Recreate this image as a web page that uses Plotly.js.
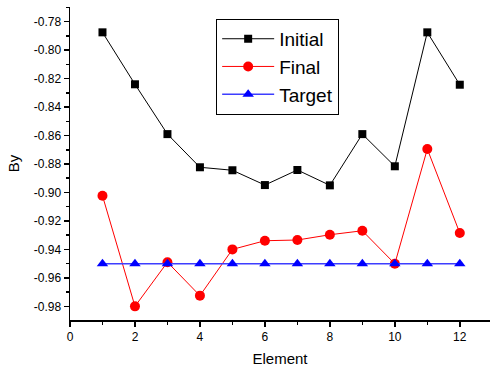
<!DOCTYPE html>
<html><head><meta charset="utf-8">
<script src="https://cdn.plot.ly/plotly-3.0.1.min.js"></script>
<style>html,body{margin:0;padding:0;background:#fff;}#chart{width:491px;height:371px;}</style>
</head><body><div id="chart"></div>
<script>
const elements = [1,2,3,4,5,6,7,8,9,10,11,12];
const initialVals = [-0.7875,-0.824,-0.859,-0.8823,-0.8844,-0.8948,-0.8842,-0.895,-0.859,-0.8816,-0.7875,-0.8243];
const finalVals = [-0.9023,-0.980,-0.949,-0.9725,-0.940,-0.9339,-0.9334,-0.9297,-0.9269,-0.9501,-0.8695,-0.9285];
const targetVals = [-0.95,-0.95,-0.95,-0.95,-0.95,-0.95,-0.95,-0.95,-0.95,-0.95,-0.95,-0.95];
const xTicks = [0,2,4,6,8,10,12];
const yTicks = [-0.98,-0.96,-0.94,-0.92,-0.90,-0.88,-0.86,-0.84,-0.82,-0.80,-0.78];
const yTickText = yTicks.map(v => v.toFixed(2));

const traces = [
  {x: elements, y: initialVals, name: 'Initial', mode: 'lines+markers', type: 'scatter',
   line: {color: 'black', width: 1}, marker: {symbol: 'square', size: 8, color: 'black'}},
  {x: elements, y: finalVals, name: 'Final', mode: 'lines+markers', type: 'scatter',
   line: {color: 'red', width: 1}, marker: {symbol: 'circle', size: 10, color: 'red'}},
  {x: elements, y: targetVals, name: 'Target', mode: 'lines+markers', type: 'scatter',
   line: {color: '#3d3dff', width: 1.5}, marker: {symbol: 'triangle-up', size: 10, color: 'blue'}}
];

const layout = {
  width: 491, height: 371,
  margin: {l: 70, r: 1, t: 7, b: 51},
  paper_bgcolor: 'white', plot_bgcolor: 'white',
  font: {family: 'Liberation Sans, Arial, sans-serif', color: 'black'},
  showlegend: true,
  legend: {x: 0.348, y: 0.962, xanchor: 'left', yanchor: 'top', bordercolor: 'black', borderwidth: 1,
           bgcolor: 'white', font: {size: 19}, tracegroupgap: 0, itemwidth: 52},
  xaxis: {range: [0, 12.93], tickvals: xTicks, showline: true, linecolor: 'black', linewidth: 1.5,
          ticks: 'outside', ticklen: 5, tickwidth: 1.5, tickcolor: 'black', showgrid: false, zeroline: false,
          tickfont: {size: 12}, minor: {dtick: 1, ticks: 'outside', ticklen: 3, tickcolor: 'black', showgrid: false},
          title: {text: 'Element', font: {size: 15}, standoff: 10}},
  yaxis: {range: [-0.9896, -0.7697], tickvals: yTicks, ticktext: yTickText, showline: true, linecolor: 'black', linewidth: 1.5,
          ticks: 'outside', ticklen: 5, tickwidth: 1.5, tickcolor: 'black', showgrid: false, zeroline: false,
          tickfont: {size: 12}, minor: {dtick: 0.01, ticks: 'outside', ticklen: 3, tickcolor: 'black', showgrid: false},
          title: {text: 'By', font: {size: 15}, standoff: 10}}
};
Plotly.newPlot('chart', traces, layout, {displayModeBar: false, staticPlot: true});
</script></body></html>
